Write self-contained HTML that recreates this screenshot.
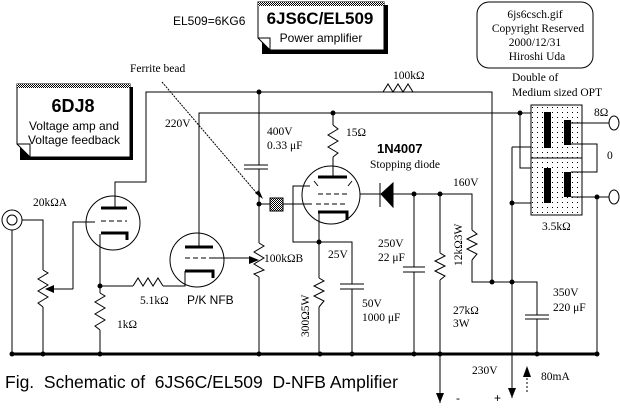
<!DOCTYPE html>
<html><head><meta charset="utf-8"><style>
html,body{margin:0;padding:0;background:#fff}
svg{display:block}
.s{font-family:"Liberation Serif",serif;font-size:11.5px}
.a{font-family:"Liberation Sans",sans-serif;font-size:12px}
</style></head><body>
<svg width="620" height="409" viewBox="0 0 620 409" xmlns="http://www.w3.org/2000/svg">
<defs>
<pattern id="dots" width="5" height="5" patternUnits="userSpaceOnUse"><rect width="5" height="5" fill="#fff"/><rect x="2" y="2" width="1" height="1" fill="#000"/></pattern>
<pattern id="hat" width="2" height="2" patternUnits="userSpaceOnUse"><rect width="2" height="2" fill="#fff"/><rect width="1" height="1" fill="#000"/><rect x="1" y="1" width="1" height="1" fill="#000"/></pattern>
</defs>
<g fill="none" stroke="#000" stroke-width="1">
<rect x="20" y="87" width="113" height="73" fill="#000" stroke="none"/>
<path d="M17 84 H130 V157 H30 L17 144 Z" fill="#fff"/>
<rect x="17" y="84" width="113" height="4" fill="url(#hat)" stroke="none"/>
<path d="M17 144 L30 144 L30 157"/>
<rect x="262" y="5" width="126" height="49" fill="#000" stroke="none"/>
<path d="M258 2 H384 V50 H270 L258 38 Z" fill="#fff"/>
<rect x="258" y="2" width="126" height="4" fill="url(#hat)" stroke="none"/>
<path d="M258 38 L270 38 L270 50"/>
<rect x="477" y="2" width="116" height="66" rx="12"/>

<path d="M12 354 H597" stroke-width="3"/>
<circle cx="12" cy="220" r="10"/><circle cx="12" cy="220" r="5"/>
<path d="M12 230 V354 M22 220 H43 V270"/>
<polyline points="43,270 48,273 38,279 48,285 38,291 48,297 38,303 43,307"/>
<path d="M43 307 V354"/>
<path d="M73 289 H52 M73 289 V222 H95"/>
<circle cx="113" cy="223" r="27"/>
<path d="M101 208 H127" stroke-width="3"/>
<path d="M101 221 H127" stroke-dasharray="5,3"/>
<path d="M101 233 H127 V240" stroke-width="3"/>
<path d="M115 208 V182 H146 V92 H492 V282"/>
<path d="M100 234 V293"/>
<polyline points="100,293 105,296 95,302 105,308 95,314 105,320 95,326 100,330"/>
<path d="M100 330 V354 M100 286 H133"/>
<polyline points="133,286 138,278 143,286 148,278 153,286 158,278 163,286"/>
<path d="M163 286 H185 V271"/>
<circle cx="197" cy="260" r="27"/>
<path d="M185 247 H213" stroke-width="3"/>
<path d="M185 258 H213" stroke-dasharray="5,3"/>
<path d="M185 271 H213 V278" stroke-width="3"/>
<path d="M199 247 V113 H543"/>
<path d="M213 258 H250"/>
<path d="M259 92 V165 M244 165 H268 M244 169 H268 M259 169 V243"/>
<polyline points="259,243 264,246 254,252 264,258 254,264 264,270 254,274 259,277"/>
<path d="M259 277 V354 M259 204 H270 M283 204 H312"/>
<rect x="270" y="198" width="13" height="13" fill="url(#hat)"/>
<path d="M162 82 L260 197" stroke-dasharray="2,1"/>
<polyline points="383,92 388,84 393,92 398,84 403,92 408,84 413,92 418,92"/>
<circle cx="331" cy="195" r="29"/>
<path d="M318 177 H347" stroke-width="3"/>
<path d="M318 194 H347 M316 204 H347" stroke-dasharray="5,3"/>
<path d="M318 212 H347 V220" stroke-width="3"/>
<path d="M314 181 L318 186 M352 181 L348 186"/>
<path d="M333 177 V157"/>
<polyline points="333,157 338,153 328,147 338,141 328,135 338,129 333,125"/>
<path d="M333 125 V113"/>
<path d="M310 186 H293 V242 H352 V284 M319 212 V278"/>
<polyline points="319,278 324,281 314,286 324,291 314,296 324,301 319,307"/>
<path d="M319 307 V354 M340 284 H364 M340 289 H364 M352 289 V354"/>
<path d="M360 194 H380 M392 194 H472 V230"/>
<path d="M380 183 V207 M381 194 L393 183 V207 Z" fill="#000"/>
<path d="M414 194 V267 M403 267 H425 M403 272 H425 M414 272 V354"/>
<path d="M440 194 V253"/>
<polyline points="440,253 445,256 435,261 445,266 435,271 445,276 440,280"/>
<path d="M440 280 V403"/>
<polyline points="472,230 477,234 467,239 477,244 467,249 477,254 472,260"/>
<path d="M472 260 V282 H537 V315 M525 315 H549 M525 319 H549 M537 319 V354"/>
<path d="M512 147 V398 M512 147 H544 M512 203 H544 M520 113 V168 H544"/>
<rect x="531" y="105" width="51" height="110" fill="url(#dots)"/>
<path d="M531 158 H582"/>
<rect x="544" y="112" width="7" height="36" fill="#000" stroke="none"/>
<rect x="544" y="168" width="7" height="35" fill="#000" stroke="none"/>
<rect x="564" y="120" width="7" height="25" fill="#000" stroke="none"/>
<rect x="564" y="172" width="7" height="25" fill="#000" stroke="none"/>
<path d="M571 123 H609 M571 144 H597 V172 H571 M571 197 H609 M597 197 V354"/>
<ellipse cx="614" cy="123" rx="5" ry="7"/>
<ellipse cx="614" cy="197" rx="5" ry="7"/>
<path d="M527 378 V392" stroke-dasharray="2,2"/>
</g>
<g fill="#000">
<path d="M45 289 L54 285 L54 293 Z"/>
<path d="M259 260 L249 256 L249 264 Z"/>
<path d="M263 199 L255 193 L259 190 Z"/>
<path d="M440 403 L436 393 L444 393 Z"/>
<path d="M512 398 L508 388 L516 388 Z"/>
<path d="M527 366 L523 377 L531 377 Z"/>
<circle cx="12" cy="354" r="2.5"/><circle cx="43" cy="354" r="2.5"/><circle cx="100" cy="354" r="2.5"/>
<circle cx="259" cy="354" r="2.5"/><circle cx="320" cy="354" r="2.5"/><circle cx="352" cy="354" r="2.5"/>
<circle cx="414" cy="354" r="2.5"/><circle cx="440" cy="354" r="2.5"/><circle cx="537" cy="354" r="2.5"/><circle cx="597" cy="354" r="2.5"/>
<circle cx="100" cy="286" r="2.5"/><circle cx="259" cy="92" r="2.5"/><circle cx="259" cy="204" r="2.5"/>
<circle cx="333" cy="113" r="2.5"/><circle cx="319" cy="242" r="2.5"/>
<circle cx="414" cy="194" r="2.5"/><circle cx="440" cy="194" r="2.5"/>
<circle cx="492" cy="282" r="2.5"/><circle cx="512" cy="282" r="2.5"/><circle cx="512" cy="203" r="2.5"/>
<circle cx="520" cy="113" r="2.5"/><circle cx="597" cy="197" r="2.5"/>
</g>
<g fill="#000">
<text x="73" y="112" font-family="Liberation Sans,sans-serif" font-size="18" font-weight="bold" text-anchor="middle">6DJ8</text>
<text x="74" y="130" class="a" text-anchor="middle">Voltage amp and</text>
<text x="74" y="144" class="a" text-anchor="middle">Voltage feedback</text>
<text x="320" y="24" font-family="Liberation Sans,sans-serif" font-size="17" font-weight="bold" text-anchor="middle">6JS6C/EL509</text>
<text x="321" y="42" class="a" font-size="12.5" text-anchor="middle">Power amplifier</text>
<text x="173" y="25" class="a" font-size="11">EL509=6KG6</text>
<g class="s" text-anchor="middle">
<text x="535" y="18">6js6csch.gif</text>
<text x="538" y="32">Copyright Reserved</text>
<text x="535" y="46">2000/12/31</text>
<text x="537" y="60">Hiroshi Uda</text>
</g>
<g class="s">
<text x="130" y="72">Ferrite bead</text>
<text x="165" y="127">220V</text>
<text x="267" y="135">400V</text>
<text x="267" y="149">0.33 μF</text>
<text x="33" y="206">20kΩA</text>
<text x="117" y="328">1kΩ</text>
<text x="140" y="304">5.1kΩ</text>
<text x="264" y="262">100kΩB</text>
<text x="346" y="136">15Ω</text>
<text x="370" y="168">Stopping diode</text>
<text x="328" y="258">25V</text>
<text x="362" y="307">50V</text>
<text x="362" y="321">1000 μF</text>
<text x="378" y="247">250V</text>
<text x="378" y="261">22 μF</text>
<text x="453" y="186">160V</text>
<text x="453" y="314">27kΩ</text>
<text x="453" y="327">3W</text>
<text x="553" y="296">350V</text>
<text x="553" y="311">220 μF</text>
<text x="472" y="374">230V</text>
<text x="541" y="380">80mA</text>
<text x="393" y="79">100kΩ</text>
<text x="512" y="81">Double of</text>
<text x="512" y="96">Medium sized OPT</text>
<text x="594" y="116">8Ω</text>
<text x="607" y="159">0</text>
<text x="542" y="230">3.5kΩ</text>
<text transform="translate(309,337) rotate(-90)">300Ω5W</text>
<text transform="translate(462,266) rotate(-90)">12kΩ3W</text>
</g>
<text x="377" y="153" font-family="Liberation Sans,sans-serif" font-size="13" font-weight="bold">1N4007</text>
<text x="187" y="304" class="a">P/K NFB</text>
<text x="456" y="402" class="a">-</text>
<text x="494" y="402" class="a">+</text>
<text x="5" y="388" font-family="Liberation Sans,sans-serif" font-size="17.5" xml:space="preserve">Fig.  Schematic of  6JS6C/EL509  D-NFB Amplifier</text>
</g>
</svg>
</body></html>
